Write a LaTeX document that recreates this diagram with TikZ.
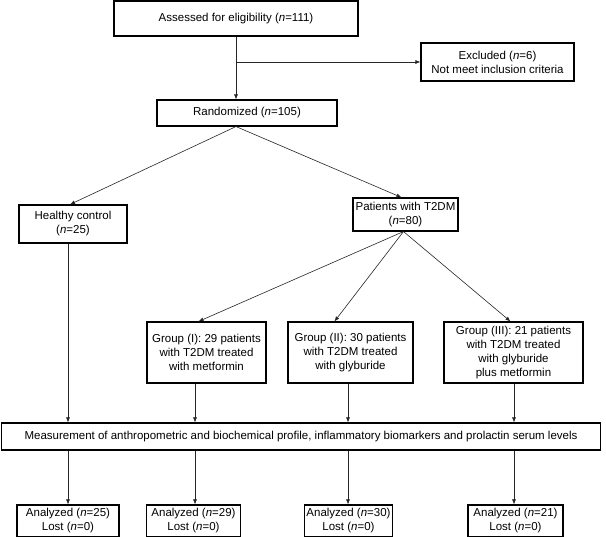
\documentclass[tikz,border=0pt]{standalone}
\usepackage{fontspec}
\setmainfont{Liberation Sans}
\usetikzlibrary{arrows.meta}
\begin{document}
\begin{tikzpicture}[x=1pt,y=-1pt,
    box/.style={draw,line width=1.1pt,align=center,inner sep=0pt,
      font=\fontsize{11.5}{14}\selectfont},
    link/.style={draw=black!85,line width=0.6pt,-{Latex[length=5pt,width=4pt]}}]
  \useasboundingbox (0,0) rectangle (606,537);
  \draw
    (236,18.5) node[box,minimum width=244pt,minimum height=35pt] (assess)
      {Assessed for eligibility (\textit{n}=111)}
    (497.5,62) node[box,minimum width=153pt,minimum height=38pt] (excl)
      {Excluded (\textit{n}=6)\\Not meet inclusion criteria}
    (247,113) node[box,minimum width=180pt,minimum height=26pt] (rand)
      {Randomized (\textit{n}=105)}
    (73,224) node[box,minimum width=108pt,minimum height=38pt] (healthy)
      {Healthy control\\(\textit{n}=25)}
    (405.5,214.5) node[box,minimum width=105pt,minimum height=33pt] (t2dm)
      {Patients with T2DM\\(\textit{n}=80)}
    (206.5,352.5) node[box,minimum width=119pt,minimum height=61pt] (g1)
      {Group (I): 29 patients\\with T2DM treated\\with metformin}
    (350.5,352.5) node[box,minimum width=125pt,minimum height=61pt] (g2)
      {Group (II): 30 patients\\with T2DM treated\\with glyburide}
    (513.5,352.5) node[box,minimum width=139pt,minimum height=61pt] (g3)
      {Group (III): 21 patients\\with T2DM treated\\with glyburide\\plus metformin}
    (301,436.5) node[box,minimum width=599pt,minimum height=27pt] (meas)
      {Measurement of anthropometric and biochemical profile, inflammatory biomarkers and prolactin serum levels}
    (68,521) node[box,minimum width=102pt,minimum height=32pt] (a1)
      {Analyzed (\textit{n}=25)\\Lost (\textit{n}=0)}
    (193.5,521) node[box,minimum width=94pt,minimum height=32pt] (a2)
      {Analyzed (\textit{n}=29)\\Lost (\textit{n}=0)}
    (348.5,521) node[box,minimum width=88pt,minimum height=32pt] (a3)
      {Analyzed (\textit{n}=30)\\Lost (\textit{n}=0)}
    (515.5,521) node[box,minimum width=95pt,minimum height=32pt] (a4)
      {Analyzed (\textit{n}=21)\\Lost (\textit{n}=0)};
  % columns of the vertical links
  \coordinate (c1) at (68,0);
  \coordinate (c2) at (195,0);
  \coordinate (c3) at (348,0);
  \coordinate (c4) at (514,0);
  \begin{scope}[link]
    \draw (assess.south) -- (assess.south |- rand.north);
    \draw (assess.south |- excl.west) -- (excl.west);
    \draw (assess.south |- rand.south) -- ([xshift=-3pt]healthy.north);
    \draw (assess.south |- rand.south) -- ([xshift=-4pt]t2dm.north);
    \draw ([xshift=-2pt]t2dm.south) -- ([xshift=-8pt]g1.north);
    \draw ([xshift=-2pt]t2dm.south) -- ([xshift=-16pt]g2.north);
    \draw ([xshift=-2pt]t2dm.south) -- ([xshift=-3pt]g3.north);
    \draw (healthy.south -| c1) -- (meas.north -| c1);
    \draw (g1.south -| c2) -- (meas.north -| c2);
    \draw (g2.south -| c3) -- (meas.north -| c3);
    \draw (g3.south -| c4) -- (meas.north -| c4);
    \draw (meas.south -| c1) -- (a1.north -| c1);
    \draw (meas.south -| c2) -- (a2.north -| c2);
    \draw (meas.south -| c3) -- (a3.north -| c3);
    \draw (meas.south -| c4) -- (a4.north -| c4);
  \end{scope}
\end{tikzpicture}
\end{document}
